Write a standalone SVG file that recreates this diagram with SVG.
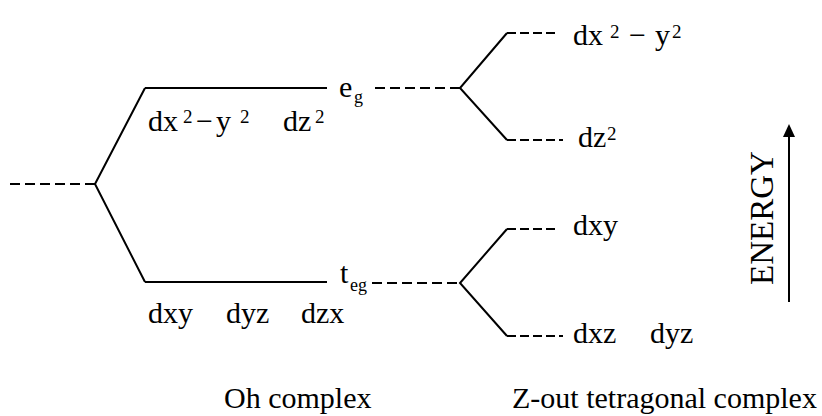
<svg xmlns="http://www.w3.org/2000/svg" width="822" height="416" viewBox="0 0 822 416">
<style>
text{font-family:"Liberation Serif","Times New Roman",serif;font-size:30px;fill:#000}
.sub{font-size:18px}
.sup{font-size:19px}
.ln{stroke:#000;stroke-width:2;fill:none}
.ds{stroke:#000;stroke-width:2;fill:none;stroke-dasharray:10 5}
.ds2{stroke:#000;stroke-width:2;fill:none;stroke-dasharray:9 4}
</style>
<defs>
<marker id="ah" markerWidth="13" markerHeight="12" refX="1" refY="6" orient="auto" markerUnits="userSpaceOnUse" viewBox="0 0 13 12">
<path d="M0,0 L13,6 L0,12 Z" fill="#000"/>
</marker>
</defs>
<g id="connectors">
<line class="ds" x1="10" y1="184" x2="95" y2="184"/>
<polyline class="ln" points="145,88 95,184 145,282"/>
<line class="ln" x1="145" y1="88" x2="327" y2="88"/>
<line class="ln" x1="145" y1="282" x2="327" y2="282"/>
<line class="ds" x1="375" y1="88" x2="460" y2="88"/>
<line class="ds" x1="372" y1="283" x2="460" y2="283"/>
<polyline class="ln" points="507,33 460,88 507,140"/>
<polyline class="ln" points="507,229 460,283 507,336"/>
<line class="ds2" x1="507" y1="33" x2="558" y2="33"/>
<line class="ds2" x1="507" y1="140" x2="563" y2="140"/>
<line class="ds2" x1="507" y1="229" x2="558" y2="229"/>
<line class="ds2" x1="507" y1="336" x2="563" y2="336"/>
</g>
<g id="oh-eg">
<text x="148" y="131">dx<tspan class="sup" x="183" y="123">2</tspan><tspan x="196" y="131">−</tspan><tspan x="216" y="131">y</tspan><tspan class="sup" x="240" y="123">2</tspan></text>
<text x="283" y="131">dz<tspan class="sup" x="315" y="123">2</tspan></text>
<text x="339" y="97">e<tspan class="sub" x="354" y="103">g</tspan></text>
</g>
<g id="oh-t2g">
<text x="148" y="323">dxy</text>
<text x="226" y="323">dyz</text>
<text x="301" y="323">dzx</text>
<text x="340" y="283">t<tspan class="sub" x="350" y="291">eg</tspan></text>
</g>
<g id="tet-top">
<text x="573" y="45">dx<tspan class="sup" x="610" y="38">2</tspan><tspan x="629" y="45">−</tspan><tspan x="655" y="45">y</tspan><tspan class="sup" x="672" y="38">2</tspan></text>
</g>
<g id="tet-z2">
<text x="578" y="147">dz<tspan class="sup" x="607" y="140">2</tspan></text>
</g>
<g id="tet-xy">
<text x="573" y="235">dxy</text>
</g>
<g id="tet-xz-yz">
<text x="573" y="343">dxz</text>
<text x="650" y="343">dyz</text>
</g>
<g id="energy">
<line class="ln" x1="789" y1="302" x2="789" y2="136" marker-end="url(#ah)"/>
<text transform="translate(773,218) rotate(-90)" text-anchor="middle" style="font-size:33px">ENERGY</text>
</g>
<g id="captions">
<text x="224" y="408">Oh complex</text>
<text x="512" y="408">Z-out tetragonal complex</text>
</g>
</svg>
